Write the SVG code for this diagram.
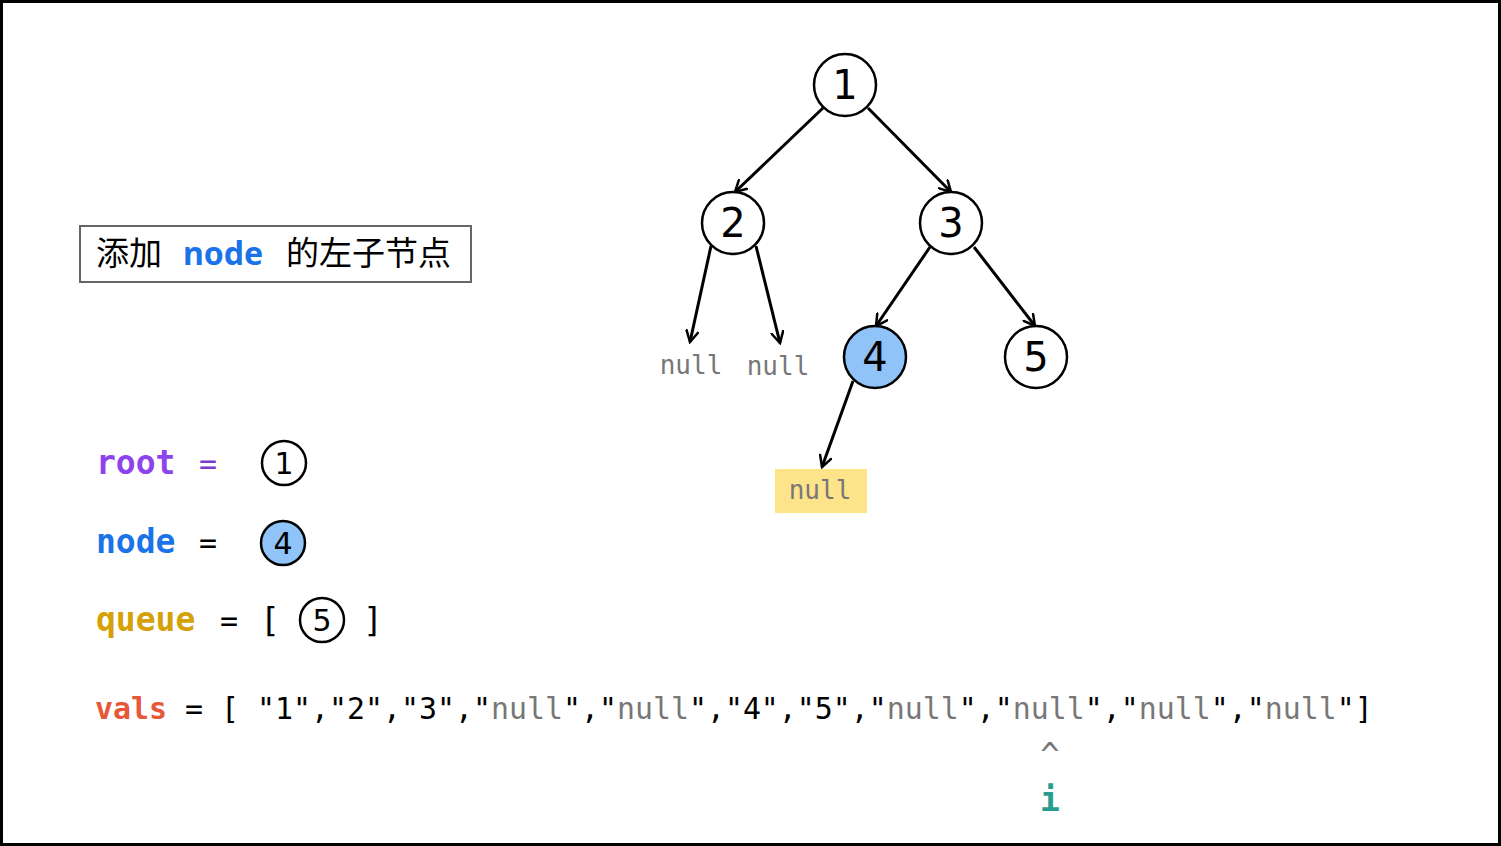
<svg xmlns="http://www.w3.org/2000/svg" width="1501" height="846" viewBox="0 0 1501 846">
<defs>
<marker id="arr" viewBox="0 0 14 14" refX="12" refY="7" markerWidth="14" markerHeight="14" markerUnits="userSpaceOnUse" orient="auto">
<path d="M1,1 L12,7 L1,13" fill="none" stroke="#000" stroke-width="2.5" stroke-linecap="round"/>
</marker>
<style>
.nd{fill:#fff;stroke:#000;stroke-width:2.5}
.hl{fill:#90c4f9}
.num{font-family:"DejaVu Sans","Noto Sans",sans-serif;font-size:40px;text-anchor:middle;fill:#000}
.snum{font-family:"DejaVu Sans","Noto Sans",sans-serif;font-size:30px;text-anchor:middle;fill:#000}
.edge{stroke:#000;stroke-width:3;fill:none;marker-end:url(#arr)}
.mono{font-family:"DejaVu Sans Mono","Liberation Mono",monospace;font-size:29.9px;fill:#000}
.null{font-family:"DejaVu Sans Mono","Liberation Mono",monospace;font-size:26px;fill:#777;text-anchor:middle}
.g{fill:#777}
.b{font-weight:bold}
.cjk{font-family:"Noto Sans CJK SC","Noto Sans",sans-serif;font-size:33px;fill:#000}
</style>
</defs>
<rect x="1.5" y="1.5" width="1498" height="843" fill="#fff" stroke="#000" stroke-width="3"/>

<g id="title">
<rect x="80" y="226" width="391" height="56" fill="#fff" stroke="#666" stroke-width="2"/>
<text class="cjk" x="96" y="265">添加</text>
<text x="183" y="265" font-family="Noto Sans, DejaVu Sans, sans-serif" font-size="32" font-weight="bold" fill="#1a73e8">node</text>
<text class="cjk" x="286" y="265">的左子节点</text>
</g>

<g id="connectors">
<line class="edge" x1="823" y1="108" x2="735" y2="192"/>
<line class="edge" x1="868" y1="108" x2="951" y2="192"/>
<line class="edge" x1="711" y1="246" x2="690" y2="342"/>
<line class="edge" x1="756" y1="246" x2="780" y2="343"/>
<line class="edge" x1="930" y1="247" x2="876" y2="326"/>
<line class="edge" x1="974" y1="247" x2="1035" y2="326"/>
<line class="edge" x1="853" y1="381" x2="822" y2="467"/>
</g>

<g id="n1"><circle class="nd" cx="845" cy="85" r="31"/><text class="num" x="845" y="99">1</text></g>
<g id="n2"><circle class="nd" cx="733" cy="223" r="31"/><text class="num" x="733" y="237">2</text></g>
<g id="n3"><circle class="nd" cx="951" cy="223" r="31"/><text class="num" x="951" y="237">3</text></g>
<g id="n4"><circle class="nd hl" cx="875" cy="357" r="31"/><text class="num" x="875" y="371">4</text></g>
<g id="n5"><circle class="nd" cx="1036" cy="357" r="31"/><text class="num" x="1036" y="371">5</text></g>
<g id="null1"><text class="null" x="691" y="374">null</text></g>
<g id="null2"><text class="null" x="778" y="375">null</text></g>
<g id="null3"><rect x="775" y="469" width="92" height="44" fill="#fde38a"/><text class="null" x="820" y="499">null</text></g>

<g id="root-line">
<text x="96" y="474" font-family="DejaVu Sans Mono, Liberation Mono, monospace" font-size="33" font-weight="bold" fill="#8e44ec">root</text>
<text x="208" y="474" font-family="DejaVu Sans Mono, Liberation Mono, monospace" font-size="30" fill="#7d3cc8" text-anchor="middle">=</text>
<circle class="nd" cx="284" cy="463" r="22" stroke-width="2"/><text class="snum" x="284" y="474">1</text>
</g>
<g id="node-line">
<text x="96" y="553" font-family="DejaVu Sans Mono, Liberation Mono, monospace" font-size="33" font-weight="bold" fill="#1a73e8">node</text>
<text x="208" y="553" font-family="DejaVu Sans Mono, Liberation Mono, monospace" font-size="30" fill="#000" text-anchor="middle">=</text>
<circle class="nd hl" cx="283" cy="543" r="22" stroke-width="2"/><text class="snum" x="283" y="554">4</text>
</g>
<g id="queue-line">
<text x="96" y="631" font-family="DejaVu Sans Mono, Liberation Mono, monospace" font-size="33" font-weight="bold" fill="#d4a106">queue</text>
<text x="229" y="631" font-family="DejaVu Sans Mono, Liberation Mono, monospace" font-size="30" fill="#000" text-anchor="middle">=</text>
<text x="270" y="632" font-family="DejaVu Sans Mono, Liberation Mono, monospace" font-size="33" fill="#000" text-anchor="middle">[</text>
<circle class="nd" cx="322" cy="620" r="22" stroke-width="2"/><text class="snum" x="322" y="631">5</text>
<text x="373" y="632" font-family="DejaVu Sans Mono, Liberation Mono, monospace" font-size="33" fill="#000" text-anchor="middle">]</text>
</g>
<g id="vals-line">
<text class="mono" x="95" y="719" xml:space="preserve"><tspan class="b" fill="#e5583a">vals</tspan> = [ "1","2","3","<tspan class="g">null</tspan>","<tspan class="g">null</tspan>","4","5","<tspan class="g">null</tspan>","<tspan class="g">null</tspan>","<tspan class="g">null</tspan>","<tspan class="g">null</tspan>"]</text>
<text x="1050" y="766" font-family="DejaVu Sans Mono, Liberation Mono, monospace" font-size="32" fill="#777" text-anchor="middle">^</text>
<text x="1050" y="811" font-family="DejaVu Sans Mono, Liberation Mono, monospace" font-size="33" font-weight="bold" fill="#2a9d8f" text-anchor="middle">i</text>
</g>
</svg>
